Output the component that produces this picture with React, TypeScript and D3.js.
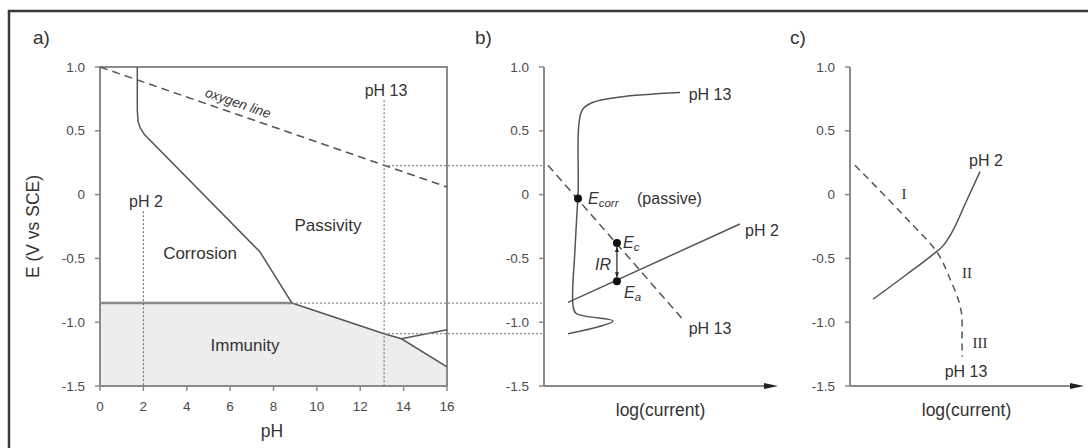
import React from "react";
import * as d3 from "d3";

// axis ticks (shared E axis)
const eTicks = [1.0, 0.5, 0, -0.5, -1.0, -1.5];
const eTickLabels = ["1.0", "0.5", "0", "-0.5", "-1.0", "-1.5"];
const phTicks = [0, 2, 4, 6, 8, 10, 12, 14, 16];

// panel a: Pourbaix diagram
const oxygenPH = [0, 16];
const oxygenE = [1.0, 0.06];
const corrosionPH = [1.72, 1.72, 1.76, 1.86, 2.05, 7.38, 8.85];
const corrosionE = [1.0, 0.66, 0.57, 0.52, 0.47, -0.45, -0.85];
const immunityPH = [8.85, 13.1, 13.9, 16];
const immunityE = [-0.85, -1.09, -1.13, -1.35];
const branchPH = [13.9, 16];
const branchE = [-1.13, -1.06];
const passiveLimitE = -0.85;
const markPH = [2, 13.1];
const markTopE = [-0.13, 0.74];

// panel b: polarisation curves
const b13X = [1.03, 2.96, 1.37, 1.24, 1.33, 1.46, 1.63, 2.06, 3.26, 5.84];
const b13E = [-1.09, -0.99, -0.93, -0.86, -0.43, 0, 0.66, 0.72, 0.765, 0.8];
const b2X = [1.03, 8.41];
const b2E = [-0.845, -0.23];
const bCathX = [0.17, 5.97];
const bCathE = [0.23, -0.98];
const ecorr = [1.46, -0.03];
const ec = [3.13, -0.38];
const ea = [3.13, -0.68];
const linkE = [0.227, -0.85, -1.09];
const linkFromPH = [13.1, 8.85, 13.1];

// panel c
const cDashX = [0.21, 2.49, 3.73, 4.29, 4.72, 4.81, 4.81];
const cDashE = [0.23, -0.2, -0.45, -0.66, -0.87, -0.98, -1.27];
const cSolidX = [0.99, 2.4, 3.55, 4.0, 4.45, 4.95, 5.58];
const cSolidE = [-0.82, -0.63, -0.47, -0.4, -0.27, -0.07, 0.18];

const W = 1088;
const H = 448;
const FONT = "'Liberation Sans', Arial, sans-serif";
const SERIF = "'Liberation Serif', 'Times New Roman', serif";
const AXIS = "#8a8a8a";
const LINE = "#555";
const TEXT = "#333";

const yE = d3.scaleLinear().domain([-1.5, 1]).range([386, 67]);
const xA = d3.scaleLinear().domain([0, 16]).range([100, 447]);
const xB = d3.scaleLinear().domain([0, 10]).range([544, 777]);
const xC = d3.scaleLinear().domain([0, 10]).range([850, 1083]);

const zip = (xs: number[], ys: number[]) => xs.map((x, i) => [x, ys[i]] as [number, number]);

const lineOf = (xs: d3.ScaleLinear<number, number>, curve: d3.CurveFactory = d3.curveLinear) =>
  d3
    .line<[number, number]>()
    .x((d) => xs(d[0]))
    .y((d) => yE(d[1]))
    .curve(curve);

const EAxis = ({ x }: { x: number }) => (
  <g>
    <line x1={x} x2={x} y1={yE(1)} y2={yE(-1.5)} stroke={AXIS} strokeWidth={2} />
    {eTicks.map((t, i) => (
      <g key={t}>
        <line x1={x - 5} x2={x} y1={yE(t)} y2={yE(t)} stroke={AXIS} strokeWidth={1.5} />
        <text x={x - 15} y={yE(t)} textAnchor="end" dominantBaseline="central" fontSize={13.5} fill="#4a4a4a">
          {eTickLabels[i]}
        </text>
      </g>
    ))}
  </g>
);

const CurrentAxis = ({ xs }: { xs: d3.ScaleLinear<number, number> }) => {
  const x0 = xs(0);
  const x1 = xs(10);
  const y = yE(-1.5);
  return (
    <g>
      <line x1={x0} x2={x1 - 8} y1={y} y2={y} stroke={AXIS} strokeWidth={2} />
      <path d={`M${x1 - 13},${y - 3} L${x1 + 1},${y} L${x1 - 13},${y + 3} Z`} fill="#222" />
      <text x={(x0 + x1) / 2} y={y + 24} textAnchor="middle" dominantBaseline="central" fontSize={17.5} fill={TEXT}>
        log(current)
      </text>
    </g>
  );
};

const Sub = ({ x, y, main, sub }: { x: number; y: number; main: string; sub: string }) => (
  <text x={x} y={y} dominantBaseline="central" fontSize={16} fill={TEXT} fontStyle="italic">
    {main}
    <tspan fontSize={11.5} dy={5}>
      {sub}
    </tspan>
  </text>
);

export default function App() {
  const lineA = lineOf(xA);
  const lineB = lineOf(xB);

  const fillPts: [number, number][] = [
    [0, passiveLimitE],
    ...zip(immunityPH, immunityE),
    [16, -1.5],
    [0, -1.5],
  ];
  const fillPath = lineA(fillPts) + "Z";

  return (
    <svg
      width={W}
      height={H}
      style={{ position: "absolute", left: 0, top: 0, background: "#fff", fontFamily: FONT }}
    >
      {/* outer frame */}
      <rect x={9} y={11} width={1100} height={460} fill="none" stroke="#3a3a3a" strokeWidth={2.5} />

      {/* ---------- panel a ---------- */}
      <text x={33} y={37} dominantBaseline="central" fontSize={19} fill={TEXT}>a)</text>
      <path d={fillPath} fill="#ededed" />
      <rect x={xA(0)} y={yE(1)} width={xA(16) - xA(0)} height={yE(-1.5) - yE(1)} fill="none" stroke={AXIS} strokeWidth={2} />
      <EAxis x={xA(0)} />
      {phTicks.map((t) => (
        <g key={t}>
          <line x1={xA(t)} x2={xA(t)} y1={yE(-1.5)} y2={yE(-1.5) + 5} stroke={AXIS} strokeWidth={1.5} />
          <text x={xA(t)} y={406} textAnchor="middle" dominantBaseline="central" fontSize={13.5} fill="#4a4a4a">
            {t}
          </text>
        </g>
      ))}
      <text x={272} y={431} textAnchor="middle" dominantBaseline="central" fontSize={17.5} fill={TEXT}>pH</text>
      <text
        transform={`translate(33,${yE(-0.25)}) rotate(-90)`}
        textAnchor="middle"
        dominantBaseline="central"
        fontSize={17.5}
        fill={TEXT}
      >
        E (V vs SCE)
      </text>

      <line x1={xA(0)} x2={xA(8.85)} y1={yE(passiveLimitE)} y2={yE(passiveLimitE)} stroke={AXIS} strokeWidth={2.5} />
      <path d={lineA(zip(immunityPH, immunityE)) || ""} fill="none" stroke={LINE} strokeWidth={1.5} />
      <path d={lineA(zip(branchPH, branchE)) || ""} fill="none" stroke={LINE} strokeWidth={1.5} />
      <path d={lineA(zip(corrosionPH, corrosionE)) || ""} fill="none" stroke={LINE} strokeWidth={1.5} />
      <path d={lineA(zip(oxygenPH, oxygenE)) || ""} fill="none" stroke={LINE} strokeWidth={1.5} strokeDasharray="8,5" />

      {markPH.map((p, i) => (
        <line key={p} x1={xA(p)} x2={xA(p)} y1={yE(markTopE[i])} y2={yE(-1.5)} stroke="#777" strokeWidth={1.2} strokeDasharray="2,2" />
      ))}
      {linkE.map((e, i) => (
        <line key={e} x1={xA(linkFromPH[i])} x2={xB(0)} y1={yE(e)} y2={yE(e)} stroke="#888" strokeWidth={1.2} strokeDasharray="2,2" />
      ))}

      <text x={146} y={201} textAnchor="middle" dominantBaseline="central" fontSize={16} fill={TEXT}>pH 2</text>
      <text x={386} y={90} textAnchor="middle" dominantBaseline="central" fontSize={16} fill={TEXT}>pH 13</text>
      <text
        transform="translate(238,103) rotate(19)"
        textAnchor="middle"
        dominantBaseline="central"
        fontSize={13.5}
        fontStyle="italic"
        fill={TEXT}
      >
        oxygen line
      </text>
      <text x={328} y={225} textAnchor="middle" dominantBaseline="central" fontSize={17} fill={TEXT}>Passivity</text>
      <text x={200} y={253} textAnchor="middle" dominantBaseline="central" fontSize={17} fill={TEXT}>Corrosion</text>
      <text x={245} y={345} textAnchor="middle" dominantBaseline="central" fontSize={17} fill={TEXT}>Immunity</text>

      {/* ---------- panel b ---------- */}
      <text x={475} y={37} dominantBaseline="central" fontSize={19} fill={TEXT}>b)</text>
      <EAxis x={xB(0)} />
      <CurrentAxis xs={xB} />
      <path d={lineB(zip(bCathX, bCathE)) || ""} fill="none" stroke={LINE} strokeWidth={1.5} strokeDasharray="8,5" />
      <path
        d={lineOf(xB, d3.curveCatmullRom.alpha(0.5))(zip(b13X, b13E)) || ""}
        fill="none"
        stroke={LINE}
        strokeWidth={1.5}
      />
      <path d={lineB(zip(b2X, b2E)) || ""} fill="none" stroke={LINE} strokeWidth={1.5} />
      <line x1={xB(ec[0])} x2={xB(ea[0])} y1={yE(ec[1]) + 4} y2={yE(ea[1]) - 4} stroke="#222" strokeWidth={1.2} />
      <path
        d={`M${xB(ec[0]) - 2},${yE(ec[1]) + 9} L${xB(ec[0])},${yE(ec[1]) + 4} L${xB(ec[0]) + 2},${yE(ec[1]) + 9}Z`}
        fill="#222"
      />
      <path
        d={`M${xB(ea[0]) - 2},${yE(ea[1]) - 9} L${xB(ea[0])},${yE(ea[1]) - 4} L${xB(ea[0]) + 2},${yE(ea[1]) - 9}Z`}
        fill="#222"
      />
      {[ecorr, ec, ea].map((p, i) => (
        <circle key={i} cx={xB(p[0])} cy={yE(p[1])} r={4} fill="#111" />
      ))}
      <text x={710} y={94} textAnchor="middle" dominantBaseline="central" fontSize={16} fill={TEXT}>pH 13</text>
      <text x={745} y={230} dominantBaseline="central" fontSize={16} fill={TEXT}>pH 2</text>
      <text x={710} y={328} textAnchor="middle" dominantBaseline="central" fontSize={16} fill={TEXT}>pH 13</text>
      <Sub x={588} y={198} main="E" sub="corr" />
      <text x={637} y={198} dominantBaseline="central" fontSize={16} fill={TEXT}>(passive)</text>
      <Sub x={623} y={242} main="E" sub="c" />
      <Sub x={624} y={292} main="E" sub="a" />
      <text x={611} y={264} textAnchor="end" dominantBaseline="central" fontSize={16} fontStyle="italic" fill={TEXT}>IR</text>

      {/* ---------- panel c ---------- */}
      <text x={790} y={37} dominantBaseline="central" fontSize={19} fill={TEXT}>c)</text>
      <EAxis x={xC(0)} />
      <CurrentAxis xs={xC} />
      <path
        d={lineOf(xC, d3.curveMonotoneY)(zip(cDashX, cDashE)) || ""}
        fill="none"
        stroke={LINE}
        strokeWidth={1.5}
        strokeDasharray="7,5"
      />
      <path
        d={lineOf(xC, d3.curveMonotoneX)(zip(cSolidX, cSolidE)) || ""}
        fill="none"
        stroke={LINE}
        strokeWidth={1.5}
      />
      <text x={986} y={160} textAnchor="middle" dominantBaseline="central" fontSize={16} fill={TEXT}>pH 2</text>
      <text x={966} y={371} textAnchor="middle" dominantBaseline="central" fontSize={16} fill={TEXT}>pH 13</text>
      <text x={904} y={194} textAnchor="middle" dominantBaseline="central" fontSize={15} fontFamily={SERIF} fill={TEXT}>I</text>
      <text x={967} y={273} textAnchor="middle" dominantBaseline="central" fontSize={15} fontFamily={SERIF} fill={TEXT}>II</text>
      <text x={980} y={343} textAnchor="middle" dominantBaseline="central" fontSize={15} fontFamily={SERIF} fill={TEXT}>III</text>
    </svg>
  );
}
